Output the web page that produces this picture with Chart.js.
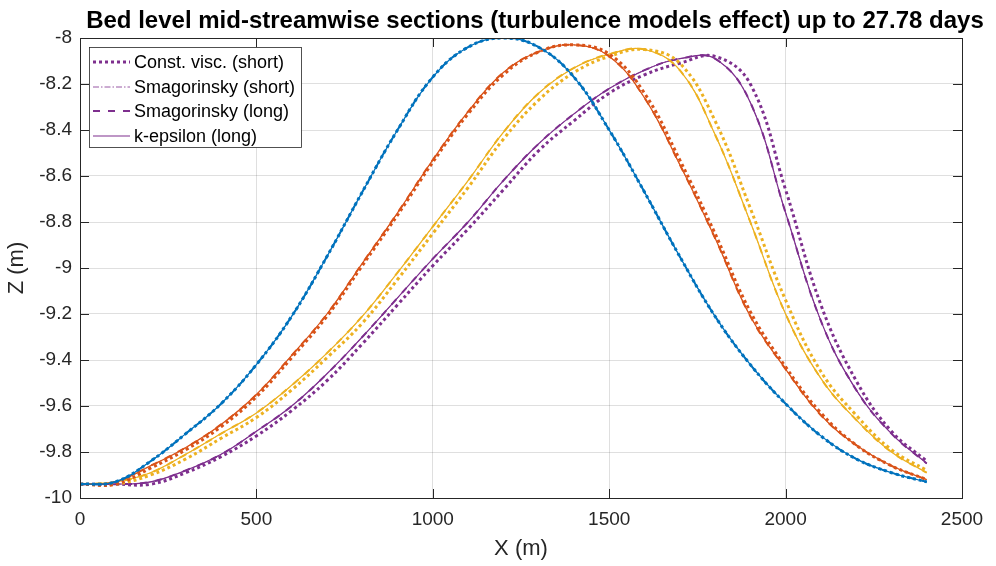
<!DOCTYPE html>
<html>
<head>
<meta charset="utf-8">
<title>Bed level mid-streamwise sections</title>
<script src="https://cdn.jsdelivr.net/npm/chart.js@4.4.1/dist/chart.umd.min.js"></script>
<style>
  html, body { margin: 0; padding: 0; background: #fff; }
  canvas { display: block; }
</style>
</head>
<body>
<canvas id="bed-chart" width="996" height="566"></canvas>
<script>
// section positions (m)
var xPos = [0, 100, 200, 300, 400, 500, 600, 700, 800, 900, 1000, 1100, 1200,
            1300, 1400, 1500, 1600, 1700, 1800, 1900, 2000, 2100, 2200, 2300, 2400];

// bed level Z (m), initial bed (same for every model)
var zStart = [-9.94, -9.93, -9.84, -9.72, -9.59, -9.42, -9.21, -8.95, -8.67, -8.40, -8.17, -8.04, -8.00,
              -8.04, -8.17, -8.40, -8.67, -8.95, -9.21, -9.42, -9.59, -9.73, -9.83, -9.89, -9.93];

// second output time
var zT1Const = [-9.94, -9.94, -9.87, -9.79, -9.69, -9.56, -9.39, -9.21, -8.99, -8.77, -8.54, -8.33, -8.16,
                -8.06, -8.03, -8.07, -8.24, -8.53, -8.85, -9.19, -9.43, -9.63, -9.77, -9.86, -9.92];
var zT1Turb = [-9.94, -9.93, -9.86, -9.78, -9.68, -9.55, -9.38, -9.20, -8.98, -8.76, -8.53, -8.32, -8.15,
               -8.06, -8.03, -8.08, -8.26, -8.55, -8.87, -9.21, -9.44, -9.64, -9.77, -9.86, -9.92];

// third output time
var zT2Const = [-9.94, -9.94, -9.90, -9.83, -9.74, -9.65, -9.53, -9.39, -9.24, -9.05, -8.85, -8.65, -8.44,
                -8.27, -8.15, -8.08, -8.05, -8.11, -8.36, -8.74, -9.14, -9.45, -9.64, -9.79, -9.88];
var zT2Turb = [-9.94, -9.93, -9.89, -9.81, -9.72, -9.63, -9.51, -9.37, -9.21, -9.02, -8.82, -8.62, -8.41,
               -8.24, -8.13, -8.07, -8.05, -8.14, -8.42, -8.80, -9.20, -9.48, -9.66, -9.80, -9.89];

// 27.78 days
var zT3Const = [-9.94, -9.94, -9.94, -9.89, -9.82, -9.73, -9.62, -9.49, -9.33, -9.16, -8.99, -8.83, -8.66,
                -8.49, -8.36, -8.24, -8.16, -8.11, -8.08, -8.20, -8.66, -9.16, -9.49, -9.71, -9.84];
var zT3Turb = [-9.94, -9.94, -9.93, -9.88, -9.81, -9.71, -9.60, -9.46, -9.30, -9.13, -8.96, -8.80, -8.62,
               -8.46, -8.33, -8.22, -8.14, -8.09, -8.09, -8.28, -8.76, -9.23, -9.53, -9.72, -9.85];

var modelNames = ['Const. visc. (short)', 'Smagorinsky (short)', 'Smagorinsky (long)', 'k-epsilon (long)'];
var xTicks = [0, 500, 1000, 1500, 2000, 2500];
var yTicks = [-10, -9.8, -9.6, -9.4, -9.2, -9, -8.8, -8.6, -8.4, -8.2, -8];

// one row per output time: [const visc, smag short, smag long, k-eps]
var runs = [
    [zStart, zStart, zStart, zStart],
    [zT1Const, zT1Turb, zT1Turb, zT1Turb],
    [zT2Const, zT2Turb, zT2Turb, zT2Turb],
    [zT3Const, zT3Turb, zT3Turb, zT3Turb]
];
var timeColors = ['#0072BD', '#D95319', '#EDB120', '#7E2F8E'];
var modelStyles = [
    { width: 3, dash: [3, 3] },
    { width: 0.8, dash: [6, 2, 1.5, 2] },
    { width: 2, dash: [7, 8] },
    { width: 1.2, dash: [] }
];

var FONT = '"Liberation Sans", Arial, Helvetica, sans-serif';
var AXIS_COLOR = '#262626';

var datasets = [];
runs.forEach(function (row, t) {
    row.forEach(function (z, m) {
        datasets.push({
            label: modelNames[m],
            data: xPos.map(function (x, i) { return { x: x, y: z[i] }; }),
            borderColor: timeColors[t],
            borderWidth: modelStyles[m].width,
            borderDash: modelStyles[m].dash,
            pointRadius: 0,
            fill: false,
            tension: 0.4
        });
    });
});

// title, axes box, inward ticks and the legend box, drawn like the matlab figure
var matlabLook = {
    id: 'matlabLook',
    afterDraw: function (chart) {
        var ctx = chart.ctx;
        var a = chart.chartArea;
        var xs = chart.scales.x, ys = chart.scales.y;
        ctx.save();

        ctx.fillStyle = '#000';
        ctx.font = 'bold 24px ' + FONT;
        ctx.textAlign = 'center';
        ctx.textBaseline = 'alphabetic';
        ctx.fillText('Bed level mid-streamwise sections (turbulence models effect) up to 27.78 days', 535, 28);

        ctx.strokeStyle = AXIS_COLOR;
        ctx.lineWidth = 1;
        ctx.strokeRect(Math.round(a.left) + 0.5, Math.round(a.top) + 0.5,
                       Math.round(a.right - a.left), Math.round(a.bottom - a.top));
        var tl = 9;
        ctx.beginPath();
        xTicks.forEach(function (v) {
            var px = Math.round(xs.getPixelForValue(v)) + 0.5;
            ctx.moveTo(px, a.bottom); ctx.lineTo(px, a.bottom - tl);
            ctx.moveTo(px, a.top); ctx.lineTo(px, a.top + tl);
        });
        yTicks.forEach(function (v) {
            var py = Math.round(ys.getPixelForValue(v)) + 0.5;
            ctx.moveTo(a.left, py); ctx.lineTo(a.left + tl, py);
            ctx.moveTo(a.right, py); ctx.lineTo(a.right - tl, py);
        });
        ctx.stroke();

        // legend
        var bx = 89.5, by = 47.5, bw = 212, bh = 100;
        ctx.fillStyle = '#fff';
        ctx.fillRect(bx, by, bw, bh);
        ctx.strokeStyle = AXIS_COLOR;
        ctx.lineWidth = 0.8;
        ctx.strokeRect(bx, by, bw, bh);
        var rowY = [62, 87, 111, 136];
        ctx.font = '18px ' + FONT;
        ctx.textAlign = 'left';
        ctx.textBaseline = 'middle';
        modelNames.forEach(function (name, m) {
            ctx.strokeStyle = timeColors[3];
            ctx.lineWidth = modelStyles[m].width;
            ctx.setLineDash(modelStyles[m].dash);
            ctx.beginPath();
            ctx.moveTo(93, rowY[m]);
            ctx.lineTo(130, rowY[m]);
            ctx.stroke();
            ctx.setLineDash([]);
            ctx.fillStyle = '#000';
            ctx.fillText(name, 134, rowY[m] + 1);
        });
        ctx.restore();
    }
};

new Chart(document.getElementById('bed-chart'), {
    type: 'line',
    data: { datasets: datasets },
    plugins: [matlabLook],
    options: {
        responsive: false,
        animation: false,
        layout: { padding: { top: 38, right: 34, left: 0, bottom: 0 } },
        plugins: {
            legend: { display: false },
            title: { display: false },
            tooltip: { enabled: false }
        },
        scales: {
            x: {
                type: 'linear',
                min: 0,
                max: 2500,
                afterFit: function (s) { s.height = 68; },
                afterBuildTicks: function (s) { s.ticks = xTicks.map(function (v) { return { value: v }; }); },
                grid: { color: 'rgba(38,38,38,0.15)', drawTicks: false },
                border: { display: false },
                ticks: {
                    padding: 10,
                    color: AXIS_COLOR,
                    font: { family: FONT, size: 19 },
                    maxRotation: 0,
                    callback: function (v) { return String(v); }
                },
                title: { display: true, text: 'X (m)', color: AXIS_COLOR, font: { family: FONT, size: 22 }, padding: 4 }
            },
            y: {
                min: -10,
                max: -8,
                afterFit: function (s) { s.width = 80; },
                afterBuildTicks: function (s) { s.ticks = yTicks.map(function (v) { return { value: v }; }); },
                grid: { color: 'rgba(38,38,38,0.15)', drawTicks: false },
                border: { display: false },
                ticks: {
                    padding: 8,
                    color: AXIS_COLOR,
                    font: { family: FONT, size: 19 },
                    callback: function (v) { return String(v); }
                },
                title: { display: true, text: 'Z (m)', color: AXIS_COLOR, font: { family: FONT, size: 22 }, padding: 4 }
            }
        }
    }
});
</script>
</body>
</html>
